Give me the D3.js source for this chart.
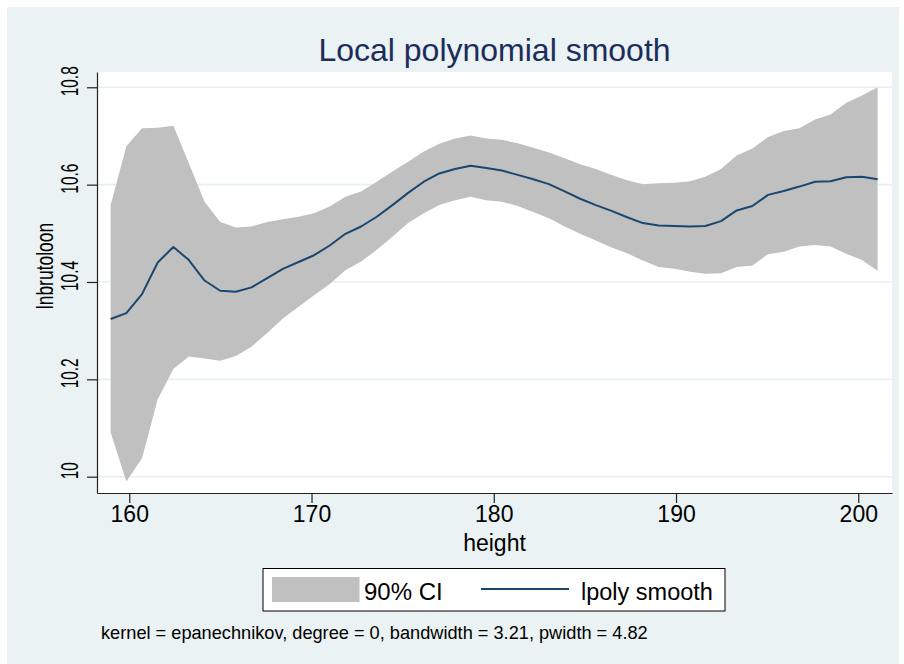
<!DOCTYPE html>
<html>
<head>
<meta charset="utf-8">
<script src="https://cdn.jsdelivr.net/npm/d3@7"></script>
<style>
  body { margin: 0; background: #fff; }
  text { font-family: "Liberation Sans", Arial, sans-serif; }
</style>
</head>
<body>
<script>
// grid of heights where lpoly evaluated the smooth
var heights = [158.98, 159.84, 160.70, 161.56, 162.42, 163.27, 164.13, 164.99, 165.85, 166.71,
               167.57, 168.43, 169.29, 170.14, 171.00, 171.86, 172.72, 173.58, 174.44, 175.30,
               176.16, 177.01, 177.87, 178.73, 179.59, 180.45, 181.31, 182.17, 183.03, 183.89,
               184.74, 185.60, 186.46, 187.32, 188.18, 189.04, 189.90, 190.76, 191.61, 192.47,
               193.33, 194.19, 195.05, 195.91, 196.77, 197.63, 198.48, 199.34, 200.20, 201.06];

var smooth = [10.324, 10.336, 10.375, 10.440, 10.472, 10.445, 10.403, 10.382, 10.380, 10.389,
              10.408, 10.427, 10.441, 10.455, 10.475, 10.499, 10.514, 10.534, 10.558, 10.583,
              10.606, 10.623, 10.632, 10.639, 10.634, 10.629, 10.620, 10.611, 10.601, 10.586,
              10.571, 10.558, 10.546, 10.533, 10.521, 10.516, 10.515, 10.514, 10.515, 10.525,
              10.547, 10.556, 10.579, 10.587, 10.596, 10.606, 10.607, 10.615, 10.616, 10.611];

var ciUpper = [10.558, 10.679, 10.716, 10.717, 10.721, 10.644, 10.565, 10.523, 10.512, 10.514,
               10.523, 10.529, 10.534, 10.541, 10.555, 10.575, 10.586, 10.606, 10.627, 10.647,
               10.668, 10.684, 10.695, 10.701, 10.695, 10.692, 10.685, 10.676, 10.666, 10.654,
               10.642, 10.632, 10.620, 10.609, 10.601, 10.603, 10.604, 10.607, 10.616, 10.632,
               10.660, 10.674, 10.698, 10.710, 10.716, 10.734, 10.744, 10.768, 10.783, 10.800];

var ciLower = [10.091, 9.990, 10.038, 10.159, 10.221, 10.247, 10.243, 10.238, 10.248, 10.267,
               10.295, 10.325, 10.349, 10.373, 10.396, 10.424, 10.442, 10.466, 10.493, 10.521,
               10.541, 10.558, 10.568, 10.575, 10.568, 10.565, 10.556, 10.544, 10.531, 10.514,
               10.499, 10.485, 10.471, 10.459, 10.444, 10.431, 10.427, 10.421, 10.417, 10.418,
               10.431, 10.434, 10.457, 10.462, 10.473, 10.476, 10.473, 10.458, 10.445, 10.423];

var xTicks = [160, 170, 180, 190, 200];
var yTicks = [10, 10.2, 10.4, 10.6, 10.8];

var W = 904, H = 664;
var margin = {top: 72, right: 12, bottom: 171, left: 97},
    width = W - margin.left - margin.right,
    height = H - margin.top - margin.bottom;

var svg = d3.select("body").append("svg")
    .attr("width", W)
    .attr("height", H);

// graph region
svg.append("rect")
    .attr("x", 7).attr("y", 7)
    .attr("width", 892).attr("height", 657)
    .attr("fill", "#eaf2f3");

var g = svg.append("g")
    .attr("transform", "translate(" + margin.left + "," + margin.top + ")");

g.append("rect")
    .attr("width", width).attr("height", height)
    .attr("fill", "#fff");

var x = d3.scaleLinear().domain([158.23, 201.85]).range([0, width]);
var y = d3.scaleLinear().domain([9.9665, 10.8314]).range([height, 0]);

// grid lines
g.selectAll(".grid")
    .data(yTicks)
    .enter().append("line")
    .attr("x1", 0).attr("x2", width)
    .attr("y1", function(d){ return y(d); })
    .attr("y2", function(d){ return y(d); })
    .attr("stroke", "#e6eff1")
    .attr("stroke-width", 1.6);

var pts = heights.map(function(h, i){
    return {h: h, s: smooth[i], lo: ciLower[i], hi: ciUpper[i]};
});

g.append("path")
    .datum(pts)
    .attr("fill", "#c0c0c0")
    .attr("d", d3.area()
        .x(function(d){ return x(d.h); })
        .y0(function(d){ return y(d.lo); })
        .y1(function(d){ return y(d.hi); }));

g.append("path")
    .datum(pts)
    .attr("fill", "none")
    .attr("stroke", "#1a476f")
    .attr("stroke-width", 2)
    .attr("stroke-linejoin", "round")
    .attr("d", d3.line()
        .x(function(d){ return x(d.h); })
        .y(function(d){ return y(d.s); }));

// axes
var xAxis = g.append("g")
    .attr("transform", "translate(0," + height + ")")
    .call(d3.axisBottom(x).tickValues(xTicks).tickSize(10).tickSizeOuter(0).tickFormat(d3.format("d")));
xAxis.select(".domain").attr("stroke", "#222").attr("stroke-width", 1.2);
xAxis.selectAll(".tick line").attr("stroke", "#222").attr("stroke-width", 1.2);
xAxis.selectAll(".tick text")
    .attr("font-size", 23)
    .attr("font-family", "Liberation Sans, Arial, sans-serif")
    .attr("fill", "#000")
    .attr("y", 13);

var yAxis = g.append("g")
    .call(d3.axisLeft(y).tickValues(yTicks).tickSize(10).tickSizeOuter(0).tickFormat(""));
yAxis.select(".domain").attr("stroke", "#222").attr("stroke-width", 1.2);
yAxis.selectAll(".tick line").attr("stroke", "#222").attr("stroke-width", 1.2);

// rotated (squeezed) y tick labels
svg.selectAll(".ylab")
    .data(yTicks)
    .enter().append("text")
    .attr("transform", function(d){
        return "translate(78," + (margin.top + y(d) - 6) + ") rotate(-90) scale(0.63,1)";
    })
    .attr("text-anchor", "middle")
    .attr("font-size", 24.5)
    .attr("fill", "#000")
    .text(function(d){ return d3.format("~g")(d); });

svg.append("text")
    .attr("transform", "translate(53,266) rotate(-90) scale(0.76,1)")
    .attr("text-anchor", "middle")
    .attr("font-size", 23)
    .attr("fill", "#000")
    .text("lnbrutoloon");

svg.append("text")
    .attr("x", margin.left + width / 2)
    .attr("y", 551)
    .attr("text-anchor", "middle")
    .attr("font-size", 23)
    .attr("fill", "#000")
    .text("height");

svg.append("text")
    .attr("x", margin.left + width / 2)
    .attr("y", 61)
    .attr("text-anchor", "middle")
    .attr("font-size", 32)
    .attr("fill", "#1c2c5b")
    .text("Local polynomial smooth");

// legend
var leg = svg.append("g");
leg.append("rect")
    .attr("x", 263).attr("y", 568.5)
    .attr("width", 462).attr("height", 42.5)
    .attr("fill", "#fff")
    .attr("stroke", "#000")
    .attr("stroke-width", 1);
leg.append("rect")
    .attr("x", 272).attr("y", 577)
    .attr("width", 87.5).attr("height", 25)
    .attr("fill", "#c0c0c0");
leg.append("text")
    .attr("x", 364).attr("y", 600)
    .attr("font-size", 24)
    .attr("fill", "#000")
    .text("90% CI");
leg.append("line")
    .attr("x1", 481).attr("x2", 569)
    .attr("y1", 589).attr("y2", 589)
    .attr("stroke", "#1a476f")
    .attr("stroke-width", 2);
leg.append("text")
    .attr("x", 581).attr("y", 600)
    .attr("font-size", 23.5)
    .attr("fill", "#000")
    .text("lpoly smooth");

svg.append("text")
    .attr("x", 101).attr("y", 639)
    .attr("font-size", 18.2)
    .attr("fill", "#000")
    .text("kernel = epanechnikov, degree = 0, bandwidth = 3.21, pwidth = 4.82");
</script>
</body>
</html>
